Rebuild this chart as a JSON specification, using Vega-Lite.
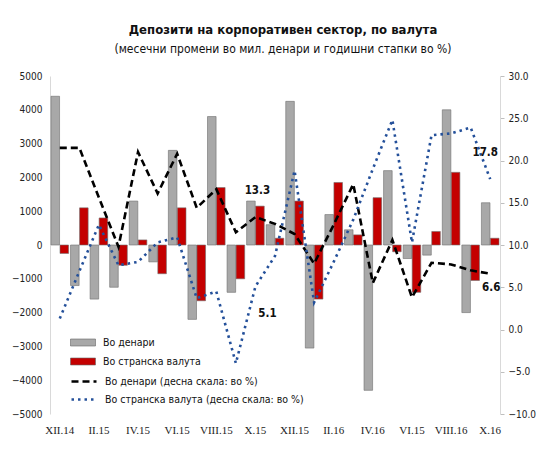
{
  "$schema": "https://vega.github.io/schema/vega-lite/v6.json",
  "width": 450,
  "height": 338,
  "autosize": "none",
  "padding": {"left": 50, "top": 76, "right": 43, "bottom": 39},
  "background": "white",
  "config": {
    "view": {"stroke": null},
    "font": "Liberation Sans Narrow, DejaVu Sans Condensed, sans-serif"
  },
  "title": {
    "text": "Депозити на корпоративен сектор, по валута",
    "subtitle": "(месечни промени во мил. денари и годишни стапки во %)",
    "font": "Liberation Sans Narrow, DejaVu Sans Condensed, sans-serif",
    "fontSize": 13,
    "fontWeight": "bold",
    "color": "#111",
    "subtitleFont": "Liberation Sans Narrow, DejaVu Sans Condensed, sans-serif",
    "subtitleFontSize": 12,
    "subtitleColor": "#111",
    "subtitlePadding": 7,
    "anchor": "middle",
    "dx": 8,
    "offset": 16
  },
  "datasets": {
    "bars": [
      {"month": "XII.14", "series": "Во денари", "value": 4400},
      {"month": "I.15", "series": "Во денари", "value": -1200},
      {"month": "II.15", "series": "Во денари", "value": -1600},
      {"month": "III.15", "series": "Во денари", "value": -1250},
      {"month": "IV.15", "series": "Во денари", "value": 1300},
      {"month": "V.15", "series": "Во денари", "value": -500},
      {"month": "VI.15", "series": "Во денари", "value": 2800},
      {"month": "VII.15", "series": "Во денари", "value": -2200},
      {"month": "VIII.15", "series": "Во денари", "value": 3800},
      {"month": "IX.15", "series": "Во денари", "value": -1400},
      {"month": "X.15", "series": "Во денари", "value": 1300},
      {"month": "XI.15", "series": "Во денари", "value": 600},
      {"month": "XII.15", "series": "Во денари", "value": 4250},
      {"month": "I.16", "series": "Во денари", "value": -3050},
      {"month": "II.16", "series": "Во денари", "value": 900},
      {"month": "III.16", "series": "Во денари", "value": 450},
      {"month": "IV.16", "series": "Во денари", "value": -4300},
      {"month": "V.16", "series": "Во денари", "value": 2200},
      {"month": "VI.16", "series": "Во денари", "value": -400},
      {"month": "VII.16", "series": "Во денари", "value": -300},
      {"month": "VIII.16", "series": "Во денари", "value": 4000},
      {"month": "IX.16", "series": "Во денари", "value": -2000},
      {"month": "X.16", "series": "Во денари", "value": 1250},
      {"month": "XII.14", "series": "Во странска валута", "value": -250},
      {"month": "I.15", "series": "Во странска валута", "value": 1100},
      {"month": "II.15", "series": "Во странска валута", "value": 800},
      {"month": "III.15", "series": "Во странска валута", "value": -600},
      {"month": "IV.15", "series": "Во странска валута", "value": 150},
      {"month": "V.15", "series": "Во странска валута", "value": -850},
      {"month": "VI.15", "series": "Во странска валута", "value": 1100},
      {"month": "VII.15", "series": "Во странска валута", "value": -1650},
      {"month": "VIII.15", "series": "Во странска валута", "value": 1700},
      {"month": "IX.15", "series": "Во странска валута", "value": -1000},
      {"month": "X.15", "series": "Во странска валута", "value": 1150},
      {"month": "XI.15", "series": "Во странска валута", "value": 200},
      {"month": "XII.15", "series": "Во странска валута", "value": 1300},
      {"month": "I.16", "series": "Во странска валута", "value": -1600},
      {"month": "II.16", "series": "Во странска валута", "value": 1850},
      {"month": "III.16", "series": "Во странска валута", "value": 300},
      {"month": "IV.16", "series": "Во странска валута", "value": 1400},
      {"month": "V.16", "series": "Во странска валута", "value": -200},
      {"month": "VI.16", "series": "Во странска валута", "value": -1400},
      {"month": "VII.16", "series": "Во странска валута", "value": 400},
      {"month": "VIII.16", "series": "Во странска валута", "value": 2150},
      {"month": "IX.16", "series": "Во странска валута", "value": -1050},
      {"month": "X.16", "series": "Во странска валута", "value": 200}
    ],
    "lines": [
      {"month": "XII.14", "series": "Во денари (десна скала: во %)", "value": 21.5},
      {"month": "I.15", "series": "Во денари (десна скала: во %)", "value": 21.5},
      {"month": "II.15", "series": "Во денари (десна скала: во %)", "value": 15.6},
      {"month": "III.15", "series": "Во денари (десна скала: во %)", "value": 9.8},
      {"month": "IV.15", "series": "Во денари (десна скала: во %)", "value": 21.0},
      {"month": "V.15", "series": "Во денари (десна скала: во %)", "value": 16.1},
      {"month": "VI.15", "series": "Во денари (десна скала: во %)", "value": 20.8},
      {"month": "VII.15", "series": "Во денари (десна скала: во %)", "value": 14.4},
      {"month": "VIII.15", "series": "Во денари (десна скала: во %)", "value": 16.6},
      {"month": "IX.15", "series": "Во денари (десна скала: во %)", "value": 11.5},
      {"month": "X.15", "series": "Во денари (десна скала: во %)", "value": 13.3},
      {"month": "XI.15", "series": "Во денари (десна скала: во %)", "value": 12.5},
      {"month": "XII.15", "series": "Во денари (десна скала: во %)", "value": 11.3},
      {"month": "I.16", "series": "Во денари (десна скала: во %)", "value": 7.8},
      {"month": "II.16", "series": "Во денари (десна скала: во %)", "value": 12.4},
      {"month": "III.16", "series": "Во денари (десна скала: во %)", "value": 17.2},
      {"month": "IV.16", "series": "Во денари (десна скала: во %)", "value": 5.5},
      {"month": "V.16", "series": "Во денари (десна скала: во %)", "value": 10.6},
      {"month": "VI.16", "series": "Во денари (десна скала: во %)", "value": 3.8},
      {"month": "VII.16", "series": "Во денари (десна скала: во %)", "value": 7.9},
      {"month": "VIII.16", "series": "Во денари (десна скала: во %)", "value": 7.7},
      {"month": "IX.16", "series": "Во денари (десна скала: во %)", "value": 7.0},
      {"month": "X.16", "series": "Во денари (десна скала: во %)", "value": 6.6},
      {"month": "XII.14", "series": "Во странска валута (десна скала: во %)", "value": 1.3},
      {"month": "I.15", "series": "Во странска валута (десна скала: во %)", "value": 6.9},
      {"month": "II.15", "series": "Во странска валута (десна скала: во %)", "value": 12.4},
      {"month": "III.15", "series": "Во странска валута (десна скала: во %)", "value": 7.6},
      {"month": "IV.15", "series": "Во странска валута (десна скала: во %)", "value": 8.0},
      {"month": "V.15", "series": "Во странска валута (десна скала: во %)", "value": 10.3},
      {"month": "VI.15", "series": "Во странска валута (десна скала: во %)", "value": 10.9},
      {"month": "VII.15", "series": "Во странска валута (десна скала: во %)", "value": 3.7},
      {"month": "VIII.15", "series": "Во странска валута (десна скала: во %)", "value": 4.5},
      {"month": "IX.15", "series": "Во странска валута (десна скала: во %)", "value": -4.0},
      {"month": "X.15", "series": "Во странска валута (десна скала: во %)", "value": 5.1},
      {"month": "XI.15", "series": "Во странска валута (десна скала: во %)", "value": 8.7},
      {"month": "XII.15", "series": "Во странска валута (десна скала: во %)", "value": 18.8},
      {"month": "I.16", "series": "Во странска валута (десна скала: во %)", "value": 3.2},
      {"month": "II.16", "series": "Во странска валута (десна скала: во %)", "value": 8.0},
      {"month": "III.16", "series": "Во странска валута (десна скала: во %)", "value": 13.0},
      {"month": "IV.16", "series": "Во странска валута (десна скала: во %)", "value": 19.0},
      {"month": "V.16", "series": "Во странска валута (десна скала: во %)", "value": 24.8},
      {"month": "VI.16", "series": "Во странска валута (десна скала: во %)", "value": 10.3},
      {"month": "VII.16", "series": "Во странска валута (десна скала: во %)", "value": 23.0},
      {"month": "VIII.16", "series": "Во странска валута (десна скала: во %)", "value": 23.2},
      {"month": "IX.16", "series": "Во странска валута (десна скала: во %)", "value": 23.9},
      {"month": "X.16", "series": "Во странска валута (десна скала: во %)", "value": 17.8}
    ]
  },
  "encoding": {
    "x": {
      "field": "month",
      "type": "ordinal",
      "scale": {
        "domain": ["XII.14", "I.15", "II.15", "III.15", "IV.15", "V.15", "VI.15", "VII.15", "VIII.15", "IX.15", "X.15", "XI.15", "XII.15", "I.16", "II.16", "III.16", "IV.16", "V.16", "VI.16", "VII.16", "VIII.16", "IX.16", "X.16"],
        "paddingInner": 0.1,
        "paddingOuter": 0.05
      },
      "axis": {
        "title": null,
        "values": ["XII.14", "II.15", "IV.15", "VI.15", "VIII.15", "X.15", "XII.15", "II.16", "IV.16", "VI.16", "VIII.16", "X.16"],
        "labelExpr": "datum.value == 'VI.16' ? 'VI.15' : datum.value",
        "labelAngle": 0,
        "labelFont": "Liberation Serif, DejaVu Serif, serif",
        "labelFontSize": 11,
        "labelColor": "#222",
        "labelPadding": 10,
        "domain": false,
        "ticks": false,
        "grid": false
      }
    }
  },
  "layer": [
    {
      "data": {"name": "bars"},
      "mark": {"type": "bar", "stroke": "#6f6f6f", "strokeWidth": 0.6},
      "encoding": {
        "xOffset": {"field": "series", "type": "nominal", "scale": {"domain": ["Во денари", "Во странска валута"], "paddingInner": 0.05}},
        "y": {
          "field": "value",
          "type": "quantitative",
          "scale": {"domain": [-5000, 5000], "nice": false},
          "axis": {
            "title": null,
            "values": [-5000, -4000, -3000, -2000, -1000, 0, 1000, 2000, 3000, 4000, 5000],
            "format": "d",
            "grid": false,
            "ticks": false,
            "tickSize": 0,
            "labelPadding": 8,
            "domainColor": "#d9d9d9",
            "labelFont": "Liberation Sans Narrow, DejaVu Sans Condensed, sans-serif",
            "labelFontSize": 10,
            "labelColor": "#222"
          }
        },
        "color": {
          "field": "series",
          "type": "nominal",
          "scale": {"domain": ["Во денари", "Во странска валута"], "range": ["#a8a8a8", "#c40000"]},
          "legend": {
            "orient": "none",
            "legendX": 27.5,
            "legendY": 261,
            "title": null,
            "symbolType": "M-2.5,-0.7H2.5V0.7H-2.5Z",
            "symbolSize": 100,
            "symbolStrokeWidth": 0.6,
            "symbolStrokeColor": "#666",
            "labelOffset": 14.5,
            "labelFont": "Liberation Sans Narrow, DejaVu Sans Condensed, sans-serif",
            "labelFontSize": 10.5,
            "labelColor": "#111",
            "labelLimit": 400,
            "rowPadding": 8
          }
        }
      }
    },
    {
      "data": {"name": "lines"},
      "mark": {"type": "line", "strokeWidth": 2.6},
      "encoding": {
        "y": {
          "field": "value",
          "type": "quantitative",
          "scale": {"domain": [-10, 30], "nice": false},
          "axis": {
            "orient": "right",
            "title": null,
            "values": [-10, -5, 0, 5, 10, 15, 20, 25, 30],
            "format": ".1f",
            "grid": false,
            "tickSize": 4,
            "tickColor": "#bfbfbf",
            "domainColor": "#d9d9d9",
            "labelPadding": 4,
            "labelFont": "Liberation Sans Narrow, DejaVu Sans Condensed, sans-serif",
            "labelFontSize": 10,
            "labelColor": "#222"
          }
        },
        "stroke": {
          "field": "series",
          "type": "nominal",
          "scale": {"domain": ["Во денари (десна скала: во %)", "Во странска валута (десна скала: во %)"], "range": ["#000000", "#24509a"]},
          "legend": {
            "orient": "none",
            "legendX": 27.5,
            "legendY": 299,
            "title": null,
            "symbolType": "M-2.5,0H2.5",
            "symbolSize": 100,
            "symbolStrokeWidth": 2.6,
            "labelOffset": 14.5,
            "labelFont": "Liberation Sans Narrow, DejaVu Sans Condensed, sans-serif",
            "labelFontSize": 10.5,
            "labelColor": "#111",
            "labelLimit": 400,
            "rowPadding": 6
          }
        },
        "strokeDash": {
          "field": "series",
          "type": "nominal",
          "scale": {"domain": ["Во денари (десна скала: во %)", "Во странска валута (десна скала: во %)"], "range": [[7, 4], [2.5, 4]]}
        }
      }
    },
    {
      "data": {"name": "lines"},
      "transform": [{"filter": "datum.month == 'X.15' && datum.series == 'Во денари (десна скала: во %)'"}],
      "mark": {"type": "text", "dx": 2, "dy": -26, "fontWeight": "bold", "fontSize": 11.5, "color": "#111", "font": "Liberation Sans Narrow, DejaVu Sans Condensed, sans-serif"},
      "encoding": {
        "y": {"field": "value", "type": "quantitative", "scale": {"domain": [-10, 30], "nice": false}, "axis": null},
        "text": {"field": "value", "type": "quantitative", "format": ".1f"}
      }
    },
    {
      "data": {"name": "lines"},
      "transform": [{"filter": "datum.month == 'X.15' && datum.series == 'Во странска валута (десна скала: во %)'"}],
      "mark": {"type": "text", "dx": 12, "dy": 28, "fontWeight": "bold", "fontSize": 11.5, "color": "#111", "font": "Liberation Sans Narrow, DejaVu Sans Condensed, sans-serif"},
      "encoding": {
        "y": {"field": "value", "type": "quantitative", "scale": {"domain": [-10, 30], "nice": false}, "axis": null},
        "text": {"field": "value", "type": "quantitative", "format": ".1f"}
      }
    },
    {
      "data": {"name": "lines"},
      "transform": [{"filter": "datum.month == 'X.16' && datum.series == 'Во странска валута (десна скала: во %)'"}],
      "mark": {"type": "text", "dx": -5, "dy": -26, "fontWeight": "bold", "fontSize": 11.5, "color": "#111", "font": "Liberation Sans Narrow, DejaVu Sans Condensed, sans-serif"},
      "encoding": {
        "y": {"field": "value", "type": "quantitative", "scale": {"domain": [-10, 30], "nice": false}, "axis": null},
        "text": {"field": "value", "type": "quantitative", "format": ".1f"}
      }
    },
    {
      "data": {"name": "lines"},
      "transform": [{"filter": "datum.month == 'X.16' && datum.series == 'Во денари (десна скала: во %)'"}],
      "mark": {"type": "text", "dx": 1, "dy": 14, "fontWeight": "bold", "fontSize": 11.5, "color": "#111", "font": "Liberation Sans Narrow, DejaVu Sans Condensed, sans-serif"},
      "encoding": {
        "y": {"field": "value", "type": "quantitative", "scale": {"domain": [-10, 30], "nice": false}, "axis": null},
        "text": {"field": "value", "type": "quantitative", "format": ".1f"}
      }
    }
  ],
  "resolve": {"scale": {"y": "independent"}}
}
